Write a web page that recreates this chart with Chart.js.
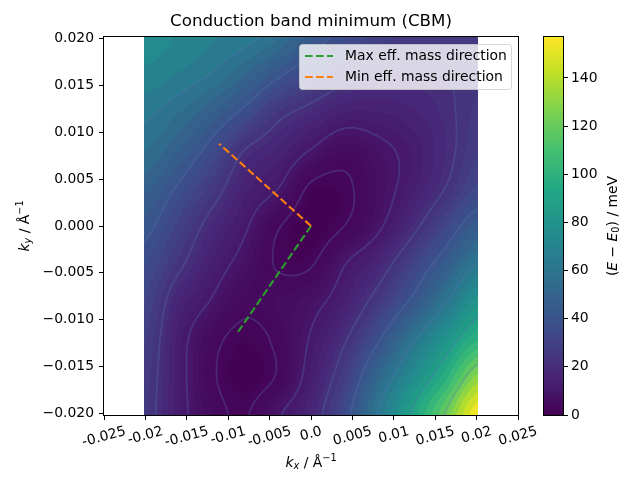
<!DOCTYPE html>
<html>
<head>
<meta charset="utf-8">
<script src="https://cdn.jsdelivr.net/npm/chart.js@4.4.1/dist/chart.umd.min.js"></script>
<style>
    html, body { margin: 0; padding: 0; background: #fff; }
    #wrap { position: relative; width: 640px; height: 480px; }
    #main { position: absolute; left: 0; top: 0; }
    #cbar { position: absolute; left: 530px; top: 0; }
</style>
</head>
<body>
<div id="wrap">
    <canvas id="main" width="640" height="480"></canvas>
    <canvas id="cbar" width="110" height="480"></canvas>
</div>
<script>
// k-grid of the energy map (1/Å), columns left->right, rows top->bottom
const kxGrid = [-0.0202, -0.01616, -0.01212, -0.00808, -0.00404, 0, 0.00404, 0.00808, 0.01212, 0.01616, 0.0202];
const kyGrid = [0.0202, 0.01616, 0.01212, 0.00808, 0.00404, 0, -0.00404, -0.00808, -0.01212, -0.01616, -0.0202];

// E - E0 in meV (one row per ky above)
const energy = [
    [76, 71, 67, 64, 57, 44, 36, 30, 27, 26, 27],
    [70, 66, 61, 52, 41, 32, 25, 22, 21, 22, 25],
    [63, 57, 48, 37, 25, 19, 14, 14, 16, 20, 26],
    [57, 48, 36, 22, 16, 9.5, 5, 8, 12, 19, 28],
    [49, 38.5, 27, 15.5, 10, 1.5, 1.5, 6.5, 13, 22, 33],
    [42, 31, 19, 11, 3, 0, 2.5, 8.5, 19, 32, 46],
    [36, 24.5, 14, 7.5, 2, 2, 9.5, 17, 30, 45, 62],
    [32, 17, 9.5, 4, 5, 7.5, 14, 26, 41, 60, 80],
    [29, 13.5, 4.5, 1, 3.5, 10.5, 21, 38, 59, 79, 100],
    [27, 13, 3.5, 0.2, 3, 13, 28, 52, 74, 98, 130],
    [26, 13, 5, 2, 9, 17, 35, 62, 89, 120, 157]
];
const contourLevels = [2.45, 9.8, 22, 39.2, 61.3, 88.2, 120];

// effective mass directions
const maxDirKx = [0, -0.0088];
const maxDirKy = [0, -0.0113];
const minDirKx = [0, -0.0111];
const minDirKy = [0, 0.0088];

// axes
const xTicks = [-0.025, -0.02, -0.015, -0.01, -0.005, 0, 0.005, 0.01, 0.015, 0.02, 0.025];
const xTickLabels = ['-0.025', '-0.02', '-0.015', '-0.01', '-0.005', '0.0', '0.005', '0.01', '0.015', '0.02', '0.025'];
const yTicks = [-0.02, -0.015, -0.01, -0.005, 0, 0.005, 0.01, 0.015, 0.02];
const cbTicks = [0, 20, 40, 60, 80, 100, 120, 140];
const cbMax = 157;

const FONT = '"DejaVu Sans", sans-serif';
const FS = 13.9;
const LW = 2.08;

// viridis colour stops
const VIR = [[68, 1, 84], [72, 36, 117], [65, 68, 135], [53, 95, 141], [42, 120, 142], [33, 145, 140],
    [34, 168, 132], [68, 191, 112], [122, 209, 81], [189, 223, 38], [253, 231, 37]];

function viridis(t) {
    t = Math.max(0, Math.min(1, t)) * (VIR.length - 1);
    const i = Math.min(Math.floor(t), VIR.length - 2), f = t - i;
    const a = VIR[i], b = VIR[i + 1];
    return [a[0] + (b[0] - a[0]) * f, a[1] + (b[1] - a[1]) * f, a[2] + (b[2] - a[2]) * f];
}

function cubic(p0, p1, p2, p3, t) {
    return p1 + 0.5 * t * (p2 - p0 + t * (2 * p0 - 5 * p1 + 4 * p2 - p3 + t * (3 * (p1 - p2) + p3 - p0)));
}

function cell(r, c) {
    r = Math.max(0, Math.min(energy.length - 1, r));
    c = Math.max(0, Math.min(energy[0].length - 1, c));
    return energy[r][c];
}

// smooth lookup between grid nodes (fractional row / column)
function sampleE(fr, fc) {
    const r = Math.floor(fr), c = Math.floor(fc);
    const tr = fr - r, tc = fc - c;
    const rows = [];
    for (let k = -1; k <= 2; k++) {
        rows.push(cubic(cell(r + k, c - 1), cell(r + k, c), cell(r + k, c + 1), cell(r + k, c + 2), tc));
    }
    return Math.max(0, cubic(rows[0], rows[1], rows[2], rows[3], tr));
}

function gridPos(grid, v) {
    const n = grid.length - 1;
    return Math.max(0, Math.min(n, (v - grid[0]) / (grid[n] - grid[0]) * n));
}

// filled bands like contourf
const NBANDS = 40;
function bandColor(v) {
    const s = Math.min(NBANDS - 1, Math.floor(Math.sqrt(v / cbMax) * NBANDS));
    const mid = Math.pow((s + 0.5) / NBANDS, 2) * cbMax;
    return viridis(mid / cbMax);
}

function drawRich(ctx, parts, x, y, size, rot) {
    ctx.save();
    ctx.translate(x, y);
    ctx.rotate(rot || 0);
    const fontFor = p => (p.i ? 'italic ' : '') + (p.s ? size * 0.7 : size) + 'px ' + FONT;
    let w = 0;
    parts.forEach(p => { ctx.font = fontFor(p); w += ctx.measureText(p.t).width; });
    let cx = -w / 2;
    ctx.textBaseline = 'middle';
    ctx.textAlign = 'left';
    ctx.fillStyle = '#000';
    parts.forEach(p => {
        ctx.font = fontFor(p);
        const dy = p.s === 'sub' ? size * 0.28 : p.s === 'sup' ? -size * 0.32 : 0;
        ctx.fillText(p.t, cx, dy);
        cx += ctx.measureText(p.t).width;
    });
    ctx.restore();
}

function marching(ctx, V, xs0, ys0, step, level) {
    const ny = V.length, nx = V[0].length;
    const lerp = (v1, v2) => (level - v1) / (v2 - v1);
    for (let j = 0; j < ny - 1; j++) {
        for (let i = 0; i < nx - 1; i++) {
            const a = V[j][i], b = V[j][i + 1], c = V[j + 1][i + 1], d = V[j + 1][i];
            const idx = (a > level ? 8 : 0) | (b > level ? 4 : 0) | (c > level ? 2 : 0) | (d > level ? 1 : 0);
            if (idx === 0 || idx === 15) continue;
            const px = xs0 + i * step, py = ys0 + j * step;
            const T = [px + lerp(a, b) * step, py];
            const R = [px + step, py + lerp(b, c) * step];
            const B = [px + lerp(d, c) * step, py + step];
            const L = [px, py + lerp(a, d) * step];
            const segs = {
                1: [[L, B]], 2: [[B, R]], 3: [[L, R]], 4: [[T, R]], 5: [[T, L], [B, R]], 6: [[T, B]],
                7: [[T, L]], 8: [[T, L]], 9: [[T, B]], 10: [[T, R], [L, B]], 11: [[T, R]], 12: [[L, R]],
                13: [[R, B]], 14: [[L, B]]
            }[idx];
            segs.forEach(s => { ctx.moveTo(s[0][0], s[0][1]); ctx.lineTo(s[1][0], s[1][1]); });
        }
    }
}

const fieldPlugin = {
    id: 'field',
    beforeDatasetsDraw(chart) {
        const ctx = chart.ctx, xs = chart.scales.x, ys = chart.scales.y;
        const x0 = Math.round(xs.getPixelForValue(kxGrid[0]));
        const x1 = Math.round(xs.getPixelForValue(kxGrid[kxGrid.length - 1]));
        const y0 = Math.round(ys.getPixelForValue(kyGrid[0]));
        const y1 = Math.round(ys.getPixelForValue(kyGrid[kyGrid.length - 1]));
        const w = x1 - x0, h = y1 - y0;
        const img = ctx.createImageData(w, h);
        const fcs = [];
        for (let i = 0; i < w; i++) fcs.push(gridPos(kxGrid, xs.getValueForPixel(x0 + i + 0.5)));
        for (let j = 0; j < h; j++) {
            const fr = gridPos(kyGrid, ys.getValueForPixel(y0 + j + 0.5));
            for (let i = 0; i < w; i++) {
                const col = bandColor(sampleE(fr, fcs[i]));
                const o = (j * w + i) * 4;
                img.data[o] = col[0];
                img.data[o + 1] = col[1];
                img.data[o + 2] = col[2];
                img.data[o + 3] = 255;
            }
        }
        ctx.putImageData(img, x0, y0);

        // contour lines
        const step = 2;
        const V = [];
        for (let py = y0; py <= y1; py += step) {
            const fr = gridPos(kyGrid, ys.getValueForPixel(py));
            const row = [];
            for (let px = x0; px <= x1; px += step) row.push(sampleE(fr, gridPos(kxGrid, xs.getValueForPixel(px))));
            V.push(row);
        }
        ctx.save();
        ctx.beginPath();
        ctx.rect(x0, y0, w, h);
        ctx.clip();
        ctx.lineWidth = 1.8;
        ctx.lineCap = 'round';
        ctx.strokeStyle = 'rgba(85, 115, 180, 0.3)';
        contourLevels.forEach(lv => {
            ctx.beginPath();
            marching(ctx, V, x0, y0, step, lv);
            ctx.stroke();
        });
        ctx.restore();
    },
    afterDraw(chart) {
        const ctx = chart.ctx, xs = chart.scales.x, a = chart.chartArea;
        // frame
        ctx.save();
        ctx.strokeStyle = '#000';
        ctx.lineWidth = 1;
        ctx.strokeRect(a.left - 0.5, a.top - 0.5, a.right - a.left + 1, a.bottom - a.top + 1);

        // rotated x tick labels
        ctx.font = FS + 'px ' + FONT;
        ctx.fillStyle = '#000';
        ctx.textAlign = 'center';
        ctx.textBaseline = 'middle';
        const rot = -15 * Math.PI / 180;
        xTicks.forEach((v, i) => {
            const tw = ctx.measureText(xTickLabels[i]).width;
            const bh = tw * Math.sin(-rot) + FS * Math.cos(rot);
            ctx.save();
            ctx.translate(xs.getPixelForValue(v), a.bottom + 9.5 + bh / 2);
            ctx.rotate(rot);
            ctx.fillText(xTickLabels[i], 0, 0);
            ctx.restore();
        });

        // title and axis titles
        ctx.font = '16.67px ' + FONT;
        ctx.fillText('Conduction band minimum (CBM)', (a.left + a.right) / 2, 22);
        drawRich(ctx, [{ t: 'k', i: 1 }, { t: 'x', i: 1, s: 'sub' }, { t: ' / Å' }, { t: '−1', s: 'sup' }],
            (a.left + a.right) / 2, 463, FS, 0);
        drawRich(ctx, [{ t: 'k', i: 1 }, { t: 'y', i: 1, s: 'sub' }, { t: ' / Å' }, { t: '−1', s: 'sup' }],
            25, (a.top + a.bottom) / 2, FS, -Math.PI / 2);

        // legend
        const lx = 299.5, ly = 44.5, lw = 212, lh = 45;
        ctx.beginPath();
        ctx.roundRect(lx, ly, lw, lh, 3);
        ctx.fillStyle = 'rgba(255, 255, 255, 0.8)';
        ctx.fill();
        ctx.strokeStyle = 'rgba(204, 204, 204, 0.8)';
        ctx.lineWidth = 1;
        ctx.stroke();
        chart.data.datasets.forEach((ds, i) => {
            const yy = 56 + i * 21;
            ctx.beginPath();
            ctx.setLineDash(ds.borderDash);
            ctx.strokeStyle = ds.borderColor;
            ctx.lineWidth = ds.borderWidth;
            ctx.moveTo(305, yy);
            ctx.lineTo(333, yy);
            ctx.stroke();
            ctx.setLineDash([]);
            ctx.fillStyle = '#000';
            ctx.textAlign = 'left';
            ctx.font = FS + 'px ' + FONT;
            ctx.fillText(ds.label, 345, yy);
        });
        ctx.restore();
    }
};

new Chart(document.getElementById('main'), {
    type: 'scatter',
    data: {
        datasets: [
            {
                label: 'Max eff. mass direction',
                data: maxDirKx.map((x, i) => ({ x: x, y: maxDirKy[i] })),
                showLine: true, borderColor: '#2ca02c', borderWidth: LW, borderDash: [7.7, 3.3],
                pointRadius: 0, fill: false, order: 1
            },
            {
                label: 'Min eff. mass direction',
                data: minDirKx.map((x, i) => ({ x: x, y: minDirKy[i] })),
                showLine: true, borderColor: '#ff7f0e', borderWidth: LW, borderDash: [7.7, 3.3],
                pointRadius: 0, fill: false, order: 0
            }
        ]
    },
    options: {
        responsive: false,
        animation: false,
        devicePixelRatio: 1,
        layout: { padding: { top: 37, right: 122, left: 0, bottom: 0 } },
        plugins: { legend: { display: false }, tooltip: { enabled: false }, title: { display: false } },
        scales: {
            x: {
                type: 'linear', min: -0.025, max: 0.025,
                afterBuildTicks: s => { s.ticks = xTicks.map(v => ({ value: v })); },
                afterFit: s => { s.height = 65; },
                ticks: { color: 'rgba(0,0,0,0)', autoSkip: false, maxRotation: 0, minRotation: 0, font: { size: FS, family: FONT } },
                grid: { drawOnChartArea: false, color: '#000', tickLength: 5 },
                border: { display: false }
            },
            y: {
                type: 'linear', min: -0.0202, max: 0.0202,
                afterBuildTicks: s => { s.ticks = yTicks.map(v => ({ value: v })); },
                afterFit: s => { s.width = 104; },
                ticks: {
                    color: '#000', autoSkip: false, padding: 5, font: { size: FS, family: FONT },
                    callback: v => (v < -1e-9 ? '−' : '') + Math.abs(v).toFixed(3)
                },
                grid: { drawOnChartArea: false, color: '#000', tickLength: 5 },
                border: { display: false }
            }
        }
    },
    plugins: [fieldPlugin]
});

// colour bar
const cbarPlugin = {
    id: 'cbar',
    beforeDatasetsDraw(chart) {
        const ctx = chart.ctx, ys = chart.scales.y, a = chart.chartArea;
        for (let py = Math.round(a.top); py < Math.round(a.bottom); py++) {
            const c = viridis(ys.getValueForPixel(py + 0.5) / cbMax);
            ctx.fillStyle = 'rgb(' + c.map(Math.round).join(',') + ')';
            ctx.fillRect(a.left, py, a.right - a.left, 1);
        }
    },
    afterDraw(chart) {
        const ctx = chart.ctx, a = chart.chartArea;
        ctx.save();
        ctx.strokeStyle = '#000';
        ctx.lineWidth = 1;
        ctx.strokeRect(a.left - 0.5, a.top - 0.5, a.right - a.left + 1, a.bottom - a.top + 1);
        ctx.restore();
        drawRich(ctx, [{ t: '(' }, { t: 'E', i: 1 }, { t: ' − ' }, { t: 'E', i: 1 }, { t: '0', s: 'sub' }, { t: ') / meV' }],
            83, (a.top + a.bottom) / 2, FS, -Math.PI / 2);
    }
};

new Chart(document.getElementById('cbar'), {
    type: 'scatter',
    data: { datasets: [{ data: [] }] },
    options: {
        responsive: false,
        animation: false,
        devicePixelRatio: 1,
        layout: { padding: { top: 37, right: 0, left: 14, bottom: 65 } },
        plugins: { legend: { display: false }, tooltip: { enabled: false } },
        scales: {
            x: { display: false, min: 0, max: 1 },
            y: {
                type: 'linear', position: 'right', min: 0, max: cbMax,
                afterBuildTicks: s => { s.ticks = cbTicks.map(v => ({ value: v })); },
                afterFit: s => { s.width = 77; },
                ticks: { color: '#000', padding: 3, font: { size: FS, family: FONT } },
                grid: { drawOnChartArea: false, color: '#000', tickLength: 5 },
                border: { display: false }
            }
        }
    },
    plugins: [cbarPlugin]
});
</script>
</body>
</html>
